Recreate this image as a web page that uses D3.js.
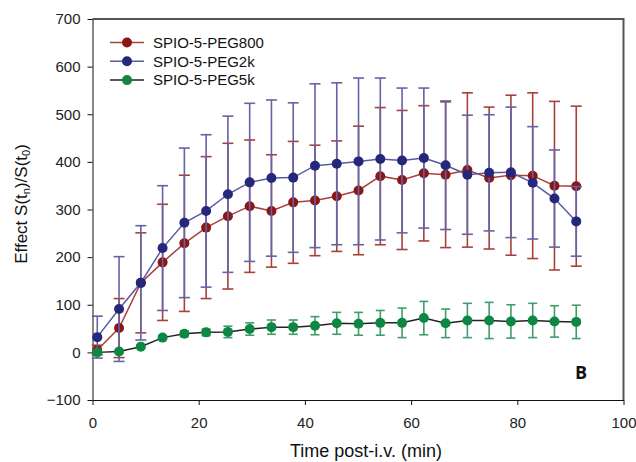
<!DOCTYPE html>
<html>
<head>
<meta charset="utf-8">
<script src="https://cdn.jsdelivr.net/npm/d3@7"></script>
<style>
  body { margin: 0; background: #fff; }
  svg { font-family: "Liberation Sans", Arial, sans-serif; }
  .axis text { font-size: 15px; fill: #222; }
  .axis path, .axis line { stroke: #111; }
</style>
</head>
<body>
<div id="chart"></div>
<script>
// time points (min)
const times = [0.9, 5.0, 9.1, 13.2, 17.3, 21.4, 25.5, 29.6, 33.7, 37.8, 41.9, 46.0,
  50.1, 54.2, 58.3, 62.4, 66.5, 70.6, 74.7, 78.8, 82.9, 87.0, 91.1];

// SPIO-5-PEG800
const peg800 = [5, 51, 146, 189, 229, 262, 286, 307, 297, 315, 319, 328,
  340, 370, 362, 376, 373, 383, 366, 372, 371, 350, 349];
const peg800Err = [10, 62, 105, 122, 143, 149, 153, 139, 118, 128, 116, 116,
  135, 144, 146, 142, 153, 162, 149, 168, 174, 177, 168];

// SPIO-5-PEG2k
const peg2k = [32, 91, 146, 219, 272, 297, 332, 357, 366, 367, 392, 396,
  401, 406, 403, 408, 393, 373, 377, 378, 356, 323, 275];
const peg2kErr = [44, 110, 120, 131, 157, 160, 164, 166, 164, 157, 172, 170,
  175, 170, 152, 147, 135, 125, 122, 137, 118, 102, 73];

// SPIO-5-PEG5k
const peg5k = [0, 2, 12, 31, 39, 42, 43, 49, 53, 53, 56, 61,
  60, 62, 62, 72, 61, 67, 67, 65, 67, 65, 64];
const peg5kErr = [2, 2, 3, 4, 6, 7, 12, 13, 15, 15, 19, 23,
  24, 26, 31, 35, 30, 36, 38, 35, 36, 33, 35];

const xTicks = [0, 20, 40, 60, 80, 100];
const yTicks = [-100, 0, 100, 200, 300, 400, 500, 600, 700];

const series = [
  {name: "SPIO-5-PEG800", values: peg800, err: peg800Err,
    dot: "#8a1616", line: "#a8413c", bar: "#a8413c", cap: 11},
  {name: "SPIO-5-PEG2k", values: peg2k, err: peg2kErr,
    dot: "#24277a", line: "#5a5aa2", bar: "#6363a8", cap: 11},
  {name: "SPIO-5-PEG5k", values: peg5k, err: peg5kErr,
    dot: "#0d8743", line: "#222", bar: "#3f9d69", cap: 9}
];

const W = 636, H = 462;
const margin = {top: 19, right: 12.5, bottom: 62, left: 92.5};

const svg = d3.select("#chart").append("svg")
  .attr("width", W).attr("height", H);

const x = d3.scaleLinear().domain([0, 100]).range([margin.left, W - margin.right]);
const y = d3.scaleLinear().domain([-100, 700]).range([H - margin.bottom, margin.top]);

/* frame: top and right in grey */
svg.append("path")
  .attr("d", `M${x(0)},${y(700)}H${x(100)}V${y(-100)}`)
  .attr("fill", "none").attr("stroke", "#555").attr("stroke-width", 2);

/* axes */
svg.append("g").attr("class", "axis")
  .attr("transform", `translate(0,${y(-100)})`)
  .call(d3.axisBottom(x).tickValues(xTicks).tickSize(5).tickSizeOuter(0).tickPadding(12));

svg.append("g").attr("class", "axis")
  .attr("transform", `translate(${x(0)},0)`)
  .call(d3.axisLeft(y).tickValues(yTicks).tickSize(5).tickSizeOuter(0).tickPadding(7));

/* axis titles */
svg.append("text")
  .attr("x", 366).attr("y", 457)
  .attr("text-anchor", "middle").style("font-size", "18px").attr("fill", "#111")
  .text("Time post-i.v. (min)");

const yt = svg.append("text")
  .attr("transform", "translate(27,204) rotate(-90)")
  .attr("text-anchor", "middle").style("font-size", "17px").attr("fill", "#111");
yt.append("tspan").text("Effect S(t");
yt.append("tspan").attr("baseline-shift", "-25%").style("font-size", "11px").text("n");
yt.append("tspan").text(")/S(t");
yt.append("tspan").attr("baseline-shift", "-25%").style("font-size", "11px").text("0");
yt.append("tspan").text(")");

/* series */
const line = d3.line().x((d, i) => x(times[i])).y(d => y(d));

series.forEach(s => {
  const g = svg.append("g");

  // error bars
  const eb = g.selectAll(".eb").data(s.values).join("g");
  eb.append("line")
    .attr("x1", (d, i) => x(times[i])).attr("x2", (d, i) => x(times[i]))
    .attr("y1", (d, i) => y(d - s.err[i])).attr("y2", (d, i) => y(d + s.err[i]))
    .attr("stroke", s.bar).attr("stroke-width", 1.6);
  [-1, 1].forEach(sign => {
    eb.append("line")
      .attr("x1", (d, i) => x(times[i]) - s.cap / 2).attr("x2", (d, i) => x(times[i]) + s.cap / 2)
      .attr("y1", (d, i) => y(d + sign * s.err[i])).attr("y2", (d, i) => y(d + sign * s.err[i]))
      .attr("stroke", s.bar).attr("stroke-width", 1.6);
  });

  g.append("path").datum(s.values)
    .attr("d", line).attr("fill", "none")
    .attr("stroke", s.line).attr("stroke-width", 1.5);

  g.selectAll("circle").data(s.values).join("circle")
    .attr("cx", (d, i) => x(times[i])).attr("cy", d => y(d))
    .attr("r", 5).attr("fill", s.dot);
});

/* legend */
const legend = svg.append("g").attr("transform", "translate(110,42.5)");
series.forEach((s, i) => {
  const row = legend.append("g").attr("transform", `translate(0,${i * 18.8})`);
  row.append("line").attr("x1", 0).attr("x2", 34).attr("stroke", s.line).attr("stroke-width", 1.5);
  row.append("circle").attr("cx", 17).attr("r", 5).attr("fill", s.dot);
  row.append("text").attr("x", 43).attr("dy", "0.35em")
    .style("font-size", "15px").attr("fill", "#111").text(s.name);
});

/* panel letter */
svg.append("text")
  .attr("x", 575).attr("y", 379)
  .style("font-family", "'Open Sans', 'DejaVu Sans', sans-serif")
  .style("font-size", "18px").style("font-weight", "bold").attr("fill", "#111")
  .text("B");
</script>
</body>
</html>
